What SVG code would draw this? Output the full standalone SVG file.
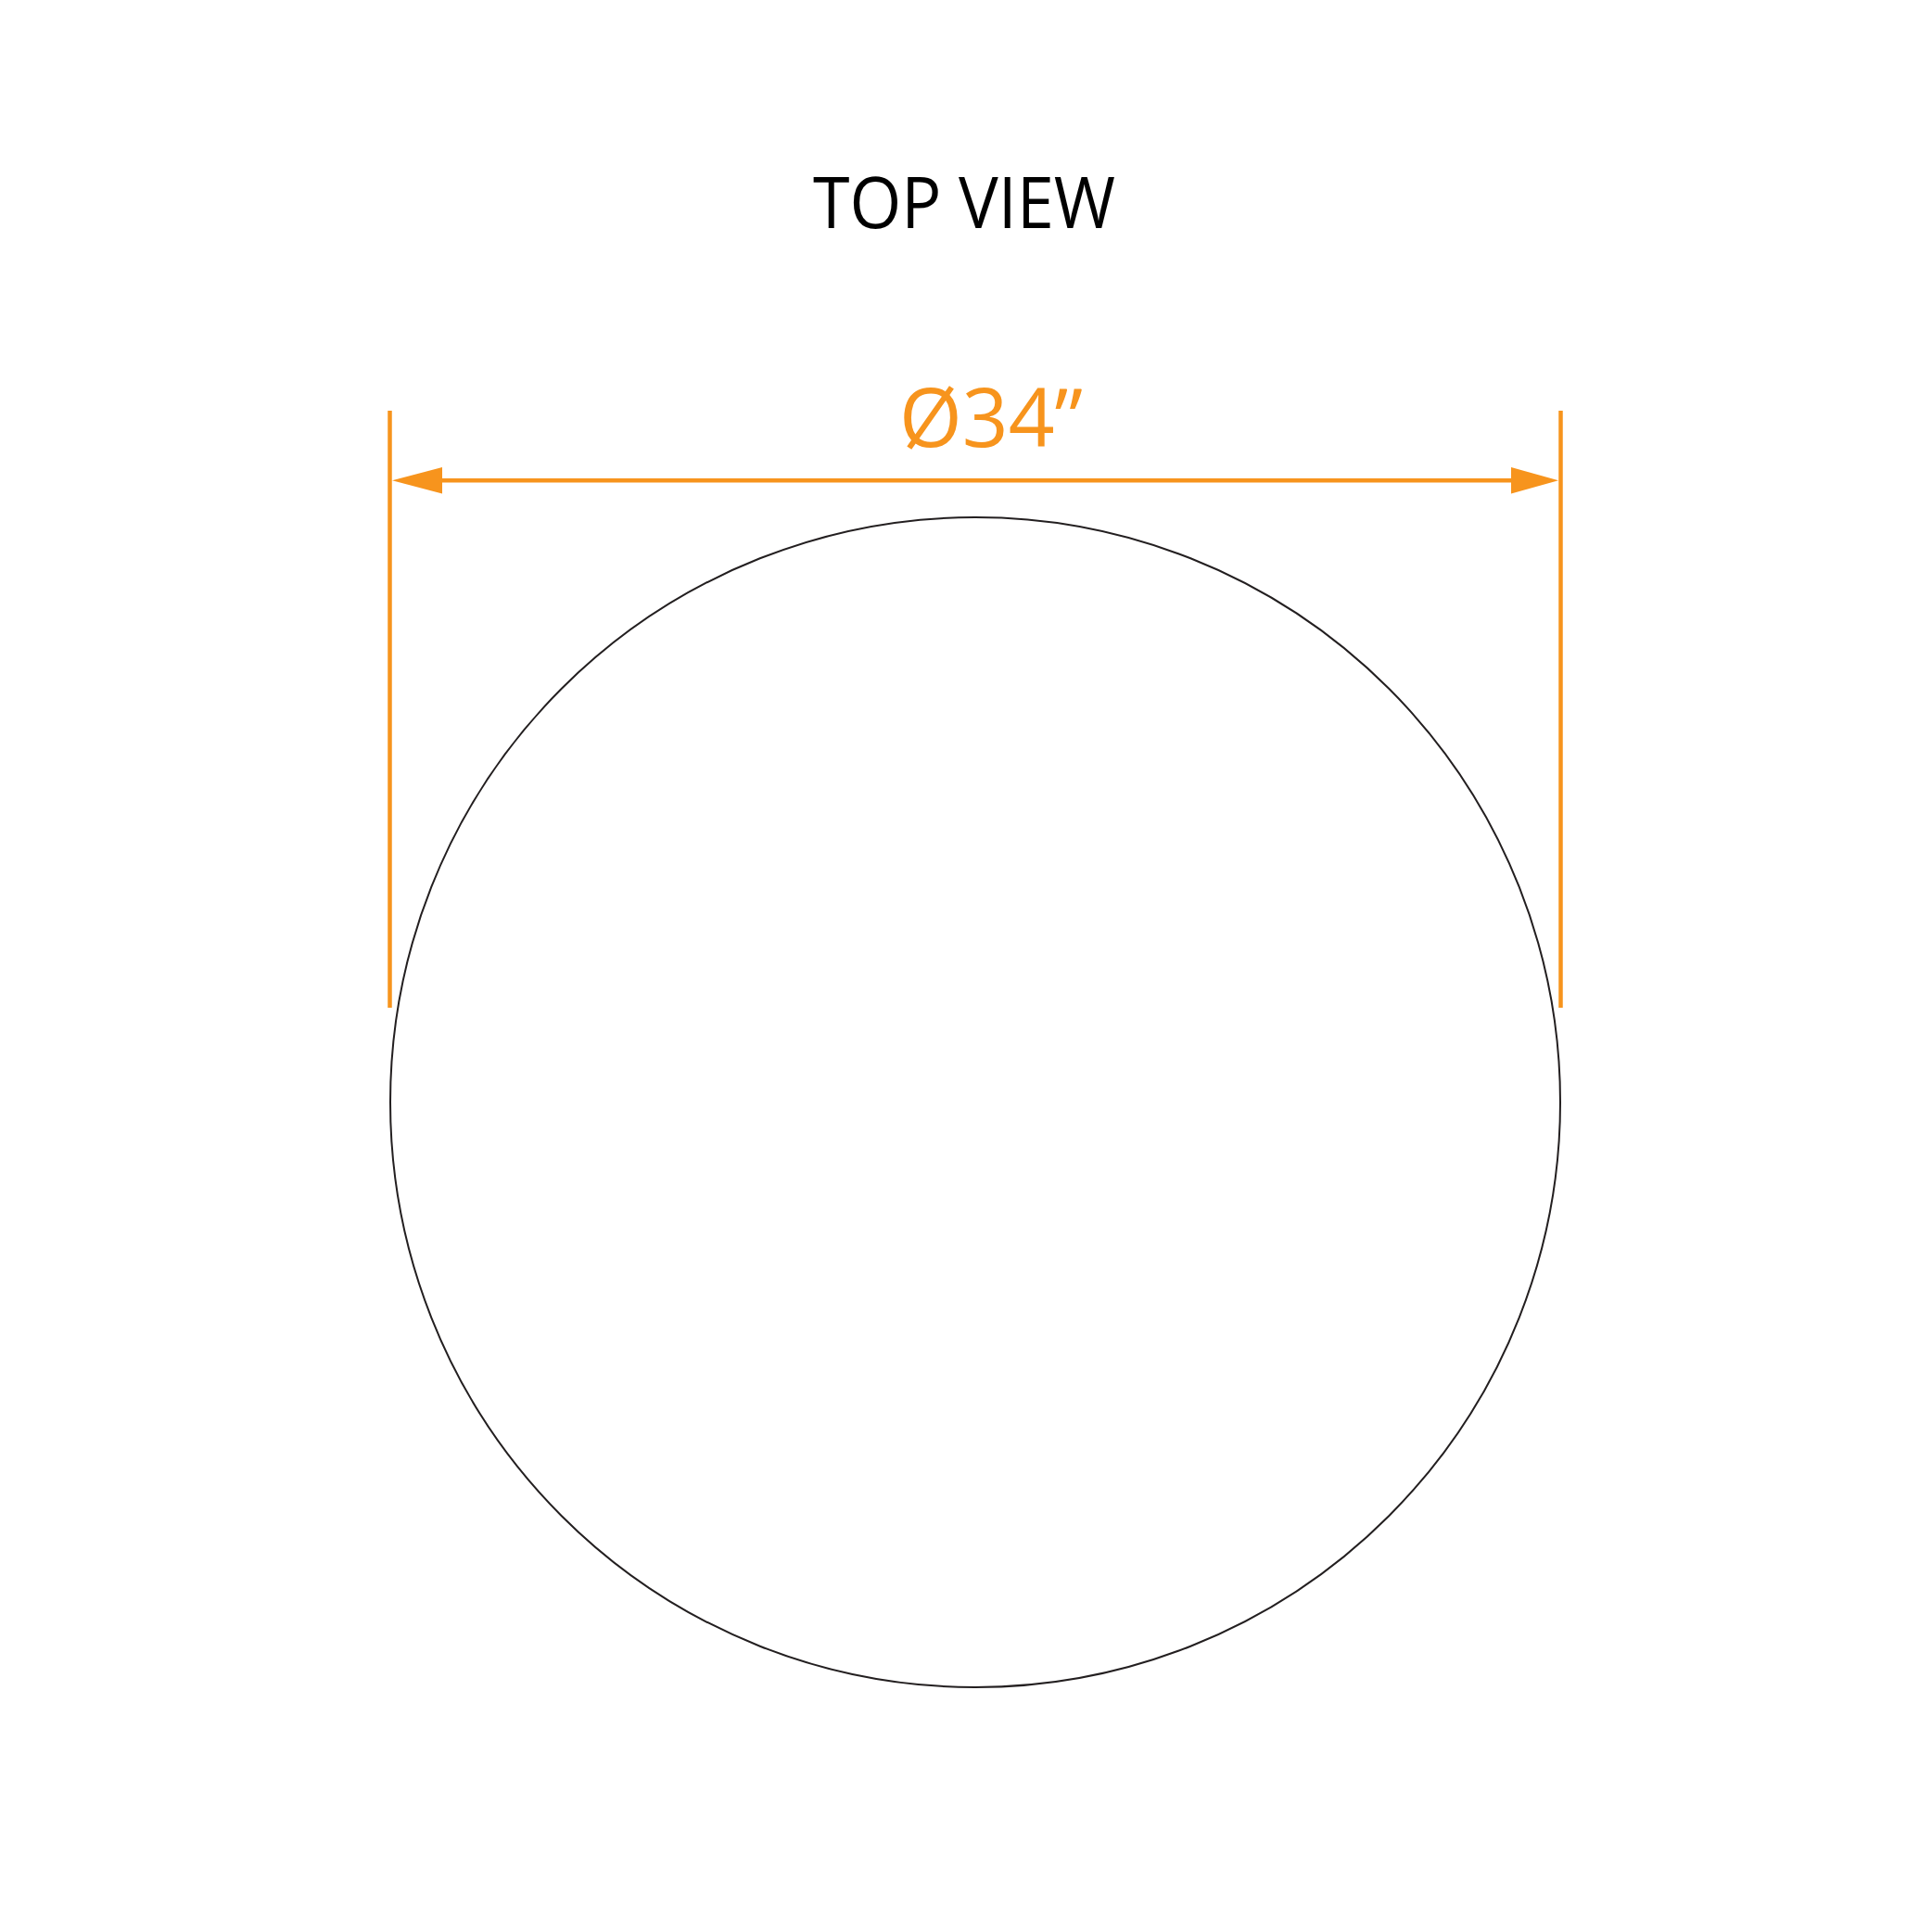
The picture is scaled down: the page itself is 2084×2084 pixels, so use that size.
<svg xmlns="http://www.w3.org/2000/svg" width="2084" height="2084" viewBox="0 0 2084 2084">
  <defs>
    <style>
      .dim { stroke: #F7941D; stroke-width: 4.5; fill: none; }
      .head { fill: #F7941D; stroke: none; }
      .title { font-family: "Open Sans", "Liberation Sans", sans-serif; font-size: 77px; fill: #000000; }
      .label { font-family: "Open Sans", "Liberation Sans", sans-serif; font-size: 88px; fill: #F7941D; }
    </style>
  </defs>
  <rect width="2084" height="2084" fill="#ffffff"/>
  <g id="title">
    <text class="title" x="877" y="246" textLength="326" lengthAdjust="spacingAndGlyphs">TOP VIEW</text>
  </g>
  <g id="table-top">
    <circle cx="1052" cy="1189" r="631" fill="none" stroke="#231F20" stroke-width="2"/>
  </g>
  <g id="dimension">
    <line class="dim" x1="420.5" y1="443" x2="420.5" y2="1087"/>
    <line class="dim" x1="1683.5" y1="443" x2="1683.5" y2="1087"/>
    <line class="dim" x1="470" y1="518.3" x2="1636" y2="518.3"/>
    <polygon class="head" points="423,518.3 477,504 477,532.6"/>
    <polygon class="head" points="1681,518.3 1630,504 1630,532.6"/>
    <text class="label" x="970" y="482" textLength="198" lengthAdjust="spacingAndGlyphs">Ø34”</text>
  </g>
</svg>
